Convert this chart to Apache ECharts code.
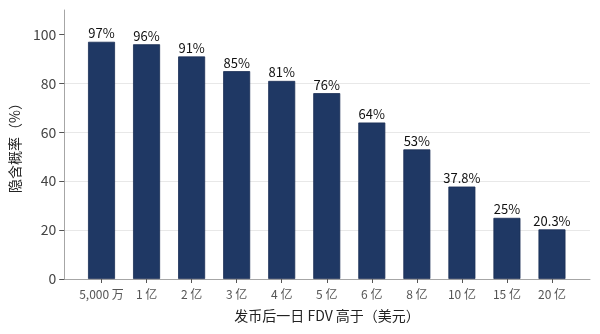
<!DOCTYPE html>
<html><head><meta charset="utf-8">
<script src="https://cdn.jsdelivr.net/npm/echarts@6/dist/echarts.min.js"></script>
<style>html,body{margin:0;padding:0;background:#fff}#c{width:600px;height:334px}</style>
</head><body><div id="c"></div>
<script>
const categories = ['5,000 万','1 亿','2 亿','3 亿','4 亿','5 亿','6 亿','8 亿','10 亿','15 亿','20 亿'];
const probabilities = [97, 96, 91, 85, 81, 76, 64, 53, 37.8, 25, 20.3];
const yTicks = [0, 20, 40, 60, 80, 100];
const xTitle = '发币后一日 FDV 高于（美元）';
const yTitle = '隐含概率（%）';

const FONT = '"Noto Sans CJK SC", "Noto Sans", sans-serif';
const chart = echarts.init(document.getElementById('c'), null, {renderer: 'canvas'});
chart.setOption({
  animation: false,
  textStyle: {fontFamily: FONT},
  grid: [
    {left: 64, right: 10, top: 10, bottom: 55},
    {left: 79, right: 25.5, top: 10, bottom: 55}
  ],
  xAxis: [
    {gridIndex: 0, type: 'value', min: 0, max: 1,
     axisLine: {show: true, lineStyle: {color: '#a6a6a6', width: 1}},
     axisTick: {show: false}, axisLabel: {show: false}, splitLine: {show: false},
     name: xTitle, nameLocation: 'middle', nameGap: 30,
     nameTextStyle: {fontSize: 14, color: '#222', fontFamily: FONT}},
    {gridIndex: 1, type: 'category', data: categories,
     axisLine: {show: false},
     axisTick: {show: true, alignWithLabel: true, length: 4, lineStyle: {color: '#555'}},
     axisLabel: {fontSize: 12, color: '#555', margin: 9, interval: 0, fontFamily: FONT},
     splitLine: {show: false}}
  ],
  yAxis: [
    {gridIndex: 0, type: 'value', min: 0, max: 110, interval: 20,
     axisLine: {show: true, lineStyle: {color: '#a6a6a6', width: 1}},
     axisTick: {show: true, length: 5, customValues: yTicks, lineStyle: {color: '#555'}},
     axisLabel: {fontSize: 14, color: '#444', margin: 8, customValues: yTicks, fontFamily: FONT},
     splitLine: {show: true, showMinLine: false, showMaxLine: false, lineStyle: {color: '#e8e8e8', width: 1}},
     name: yTitle, nameLocation: 'middle', nameGap: 38,
     nameTextStyle: {fontSize: 14, color: '#222', fontFamily: FONT}},
    {gridIndex: 1, type: 'value', min: 0, max: 110, show: false}
  ],
  series: [{
    type: 'bar', xAxisIndex: 1, yAxisIndex: 1,
    data: probabilities,
    barWidth: 27,
    itemStyle: {color: '#1f3864', borderColor: '#1a2f55', borderWidth: 0.8},
    label: {show: true, position: 'top', distance: 2, fontSize: 13, color: '#111',
            fontFamily: FONT, formatter: p => p.value + '%'}
  }]
});
</script></body></html>
